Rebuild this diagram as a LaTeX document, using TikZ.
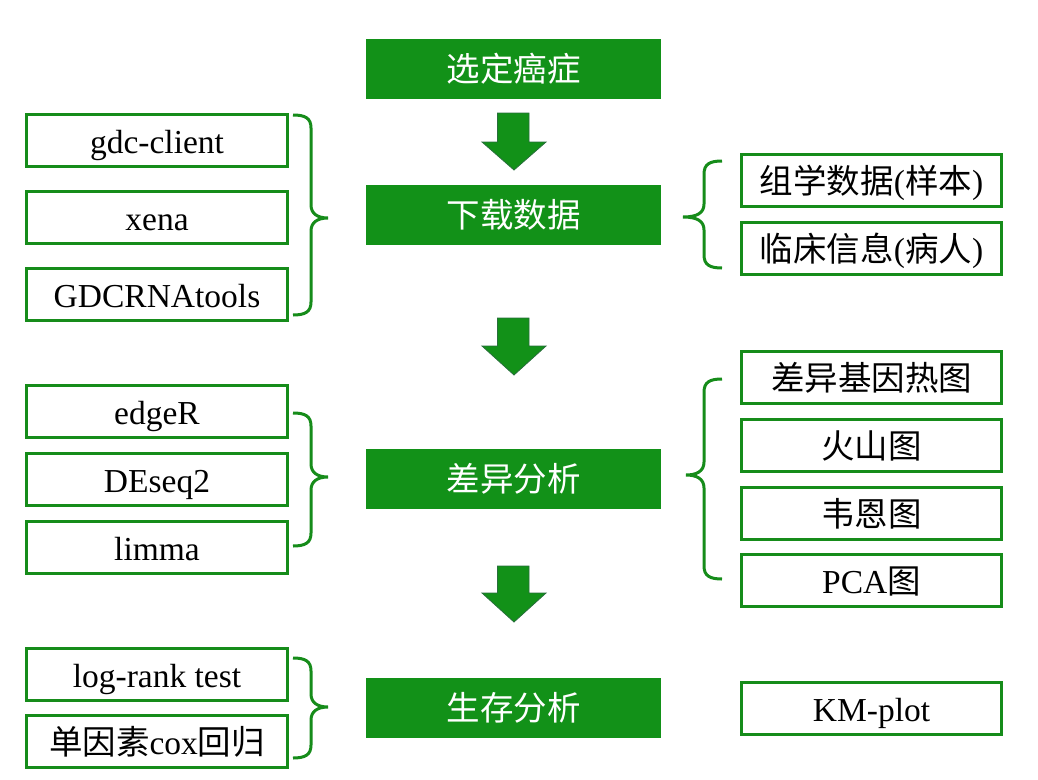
\documentclass[tikz,border=0pt]{standalone}
\usepackage{fontspec}
\setmainfont{Liberation Serif}
\newfontfamily\cjk{Noto Sans CJK SC}
\definecolor{gfill}{RGB}{18,145,24}
\definecolor{gline}{RGB}{22,140,26}
\definecolor{aline}{RGB}{40,110,60}
\begin{document}
\begin{tikzpicture}[x=1pt,y=-1pt,
  mainbox/.style={fill=gfill,draw=none,minimum width=295pt,minimum height=60pt,inner sep=0pt,text=white,font=\fontsize{33.5}{40}\selectfont\cjk},
  leftbox/.style={draw=gline,line width=3pt,fill=white,minimum width=261pt,minimum height=52pt,inner sep=0pt,text height=30pt,text depth=4pt,font=\fontsize{33.5}{40}\selectfont},
  rightbox/.style={leftbox,minimum width=260pt},
  bracepath/.style={draw=gline,line width=3pt,line cap=butt},
  blockarrow/.style={fill=gfill,draw=aline,line width=0.8pt}]
\useasboundingbox (0,0) rectangle (1038,779);
% centre column
\node[mainbox] (m1) at (513.5,68.5) {选定癌症};
\node[mainbox] (m2) at (513.5,214.5) {下载数据};
\node[mainbox] (m3) at (513.5,479) {差异分析};
\node[mainbox] (m4) at (513.5,708) {生存分析};
% block arrows
\foreach \t/\b/\p in {113/142/170, 318/346/375, 566/593/622}{
  \draw[blockarrow] (497.5,\t) -- (529,\t) -- (529,\b) -- (546,\b) -- (514,\p) -- (482,\b) -- (497.5,\b) -- cycle;
}
% left boxes
\node[leftbox] (l1) at (157,140.5) {gdc-client};
\node[leftbox] (l2) at (157,217.5) {xena};
\node[leftbox] (l3) at (157,294.5) {GDCRNAtools};
\node[leftbox] (l4) at (157,411.5) {edgeR};
\node[leftbox] (l5) at (157,479) {DEseq2};
\node[leftbox] (l6) at (157,547) {limma};
\node[leftbox] (l7) at (157,674.5) {log-rank test};
\node[leftbox] (l8) at (157,741.5) {{\cjk 单因素}cox{\cjk 回归}};
% right boxes
\node[rightbox] (r1) at (871.5,180.5) {{\cjk 组学数据}({\cjk 样本})};
\node[rightbox] (r2) at (871.5,248) {{\cjk 临床信息}({\cjk 病人})};
\node[rightbox] (r3) at (871.5,377.5) {\cjk 差异基因热图};
\node[rightbox] (r4) at (871.5,445.5) {\cjk 火山图};
\node[rightbox] (r5) at (871.5,513) {\cjk 韦恩图};
\node[rightbox] (r6) at (871.5,580.5) {PCA{\cjk 图}};
\node[rightbox] (r7) at (871.5,708.5) {KM-plot};
% left braces (tip to the right)
\foreach \top/\mid/\bot in {115/218/315, 413/477/546, 658/707/758}{
  \draw[bracepath] (293,\top) .. controls (305,\top) and (311,\top+3) .. (311,\top+13)
    -- (311,\mid-13) .. controls (311,\mid-4) and (318,\mid) .. (328,\mid)
    .. controls (318,\mid) and (311,\mid+4) .. (311,\mid+13)
    -- (311,\bot-13) .. controls (311,\bot-3) and (305,\bot) .. (293,\bot);
}
% right braces (tip to the left)
\foreach \top/\mid/\bot/\tip in {161/217/268/683, 379/475/579/686}{
  \draw[bracepath] (722,\top) .. controls (710,\top) and (704,\top+3) .. (704,\top+13)
    -- (704,\mid-13) .. controls (704,\mid-4) and (697,\mid) .. (\tip,\mid)
    .. controls (697,\mid) and (704,\mid+4) .. (704,\mid+13)
    -- (704,\bot-13) .. controls (704,\bot-3) and (710,\bot) .. (722,\bot);
}
\end{tikzpicture}
\end{document}
